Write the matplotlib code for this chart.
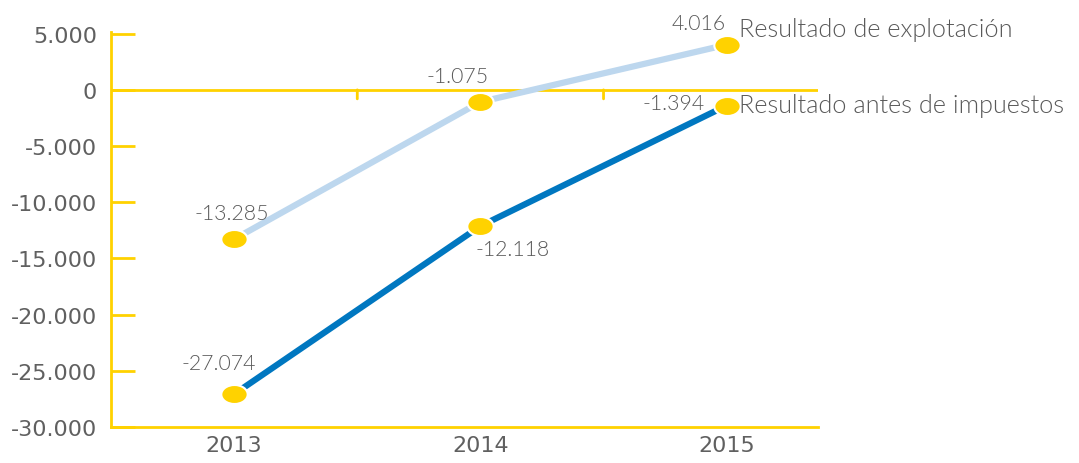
import matplotlib
matplotlib.use('Agg')
import matplotlib.pyplot as plt
from matplotlib.path import Path
from matplotlib.transforms import Affine2D

years = ['2013', '2014', '2015']
explotacion = [-13285, -1075, 4016]
antes_impuestos = [-27074, -12118, -1394]
expl_labels = ['-13.285', '-1.075', '4.016']
antes_labels = ['-27.074', '-12.118', '-1.394']
yticks = [5000, 0, -5000, -10000, -15000, -20000, -25000, -30000]
ytick_labels = ['5.000', '0', '-5.000', '-10.000', '-15.000', '-20.000', '-25.000', '-30.000']

YELLOW = '#FFD200'
LIGHT = '#BDD7EE'
DARK = '#0077C0'
GREY = '#595959'

# flattened ellipse marker
ell = Path.unit_circle().transformed(Affine2D().scale(1.0, 0.72))

fig = plt.figure(figsize=(10.79, 4.64), dpi=100)
ax = fig.add_axes([0.1029, 0.0776, 0.655, 0.8513])

x = list(range(len(years)))
ax.plot(x, explotacion, color=LIGHT, lw=4.5, zorder=2, solid_capstyle='butt')
ax.plot(x, antes_impuestos, color=DARK, lw=4.5, zorder=2, solid_capstyle='butt')
ax.plot(x, explotacion, ls='none', marker=ell, ms=19, mfc=YELLOW,
        mec='white', mew=1.5, zorder=3)
ax.plot(x, antes_impuestos, ls='none', marker=ell, ms=19, mfc=YELLOW,
        mec='white', mew=1.5, zorder=3)

# zero line with small ticks between categories
ax.axhline(0, color=YELLOW, lw=2, zorder=1)
for b in [0.5, 1.5]:
    ax.annotate('', xy=(b, 0), xytext=(0, -9), textcoords='offset pixels',
                arrowprops=dict(arrowstyle='-', color=YELLOW, lw=2,
                                shrinkA=0, shrinkB=0))

ax.set_xlim(-0.5, 2.37)
ax.set_ylim(-30000, 5150)

# data labels (offsets in pixels from each point)
expl_off = [(-2, 26), (-23, 26), (-28, 22)]
antes_off = [(-15, 31), (32, -23), (-53, 3)]
lbl = dict(textcoords='offset pixels', ha='center', va='center',
           fontsize=15.3, color=GREY, family='Lato', fontweight=300)
for i in x:
    ax.annotate(expl_labels[i], (i, explotacion[i]), xytext=expl_off[i], **lbl)
    ax.annotate(antes_labels[i], (i, antes_impuestos[i]), xytext=antes_off[i], **lbl)

leg = dict(textcoords='offset pixels', ha='left', va='center',
           fontsize=18.2, color=GREY, family='Lato', fontweight=300)
ax.annotate('Resultado de explotación', (2, explotacion[2]), xytext=(12, 16), **leg)
ax.annotate('Resultado antes de impuestos', (2, antes_impuestos[2]), xytext=(12, 1), **leg)

for s in ['top', 'right']:
    ax.spines[s].set_visible(False)
for s in ['left', 'bottom']:
    ax.spines[s].set_color(YELLOW)
    ax.spines[s].set_linewidth(2)

ax.set_yticks(yticks)
ax.set_yticklabels(ytick_labels)
ax.set_xticks(x)
ax.set_xticklabels(years)
ax.tick_params(axis='y', direction='in', length=17, width=2, color=YELLOW,
               labelsize=16, labelcolor='#606060', pad=10)
ax.tick_params(axis='x', length=0, labelsize=16, labelcolor='#606060', pad=6)

fig.savefig('out.png', dpi=100)
